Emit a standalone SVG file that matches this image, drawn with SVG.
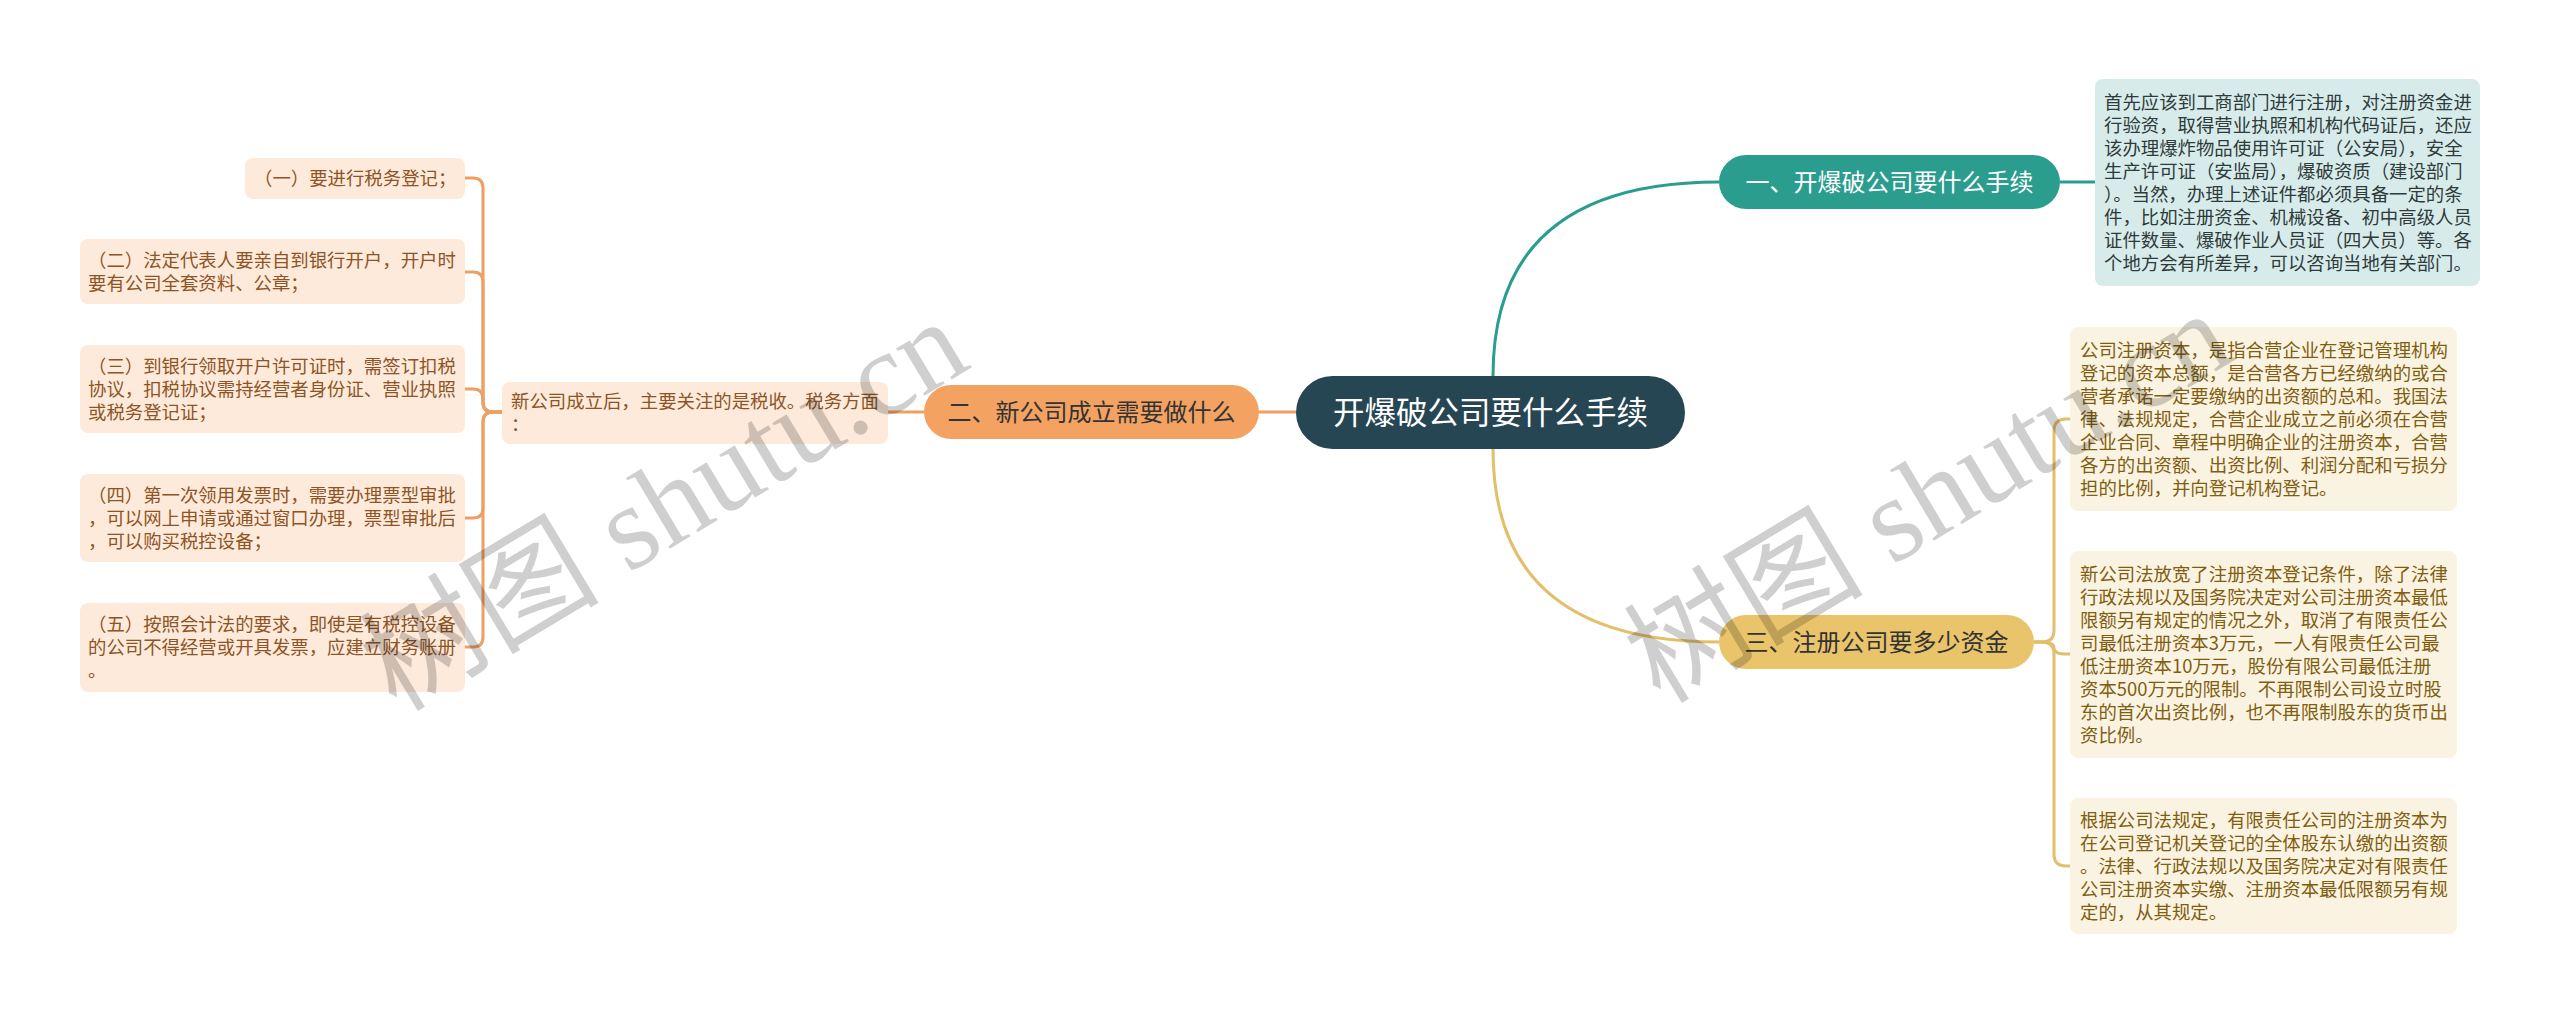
<svg xmlns="http://www.w3.org/2000/svg" width="2560" height="1014" viewBox="0 0 2560 1014">
<style>
text{font-family:"Noto Sans CJK SC","Noto Sans",sans-serif}
.sm{font-size:18.4px}
.leaf{fill:#fdeadb}
.leaft{fill:#8e5425}
.tealbox{fill:#d7ecea}
.tealt{fill:#2f3a3a}
.ybox{fill:#fbf3e1}
.yt{fill:#7f5e12}
.pill{font-size:24px}
.c-o{fill:none;stroke:#eea064;stroke-width:3}
.c-t{fill:none;stroke:#2a9d8f;stroke-width:3}
.c-y{fill:none;stroke:#e2c06a;stroke-width:3}
.wm{font-family:"Liberation Serif","Noto Sans CJK SC",serif;font-size:120px;fill:#000;fill-opacity:0.19}
</style>
<rect width="2560" height="1014" fill="#ffffff"/>
<g id="connectors">
<path class="c-t" d="M1493 376 Q1493 182 1719 182"/>
<path class="c-y" d="M1493 449 Q1493 642 1719 642"/>
<path class="c-o" d="M1296 412 L1259 412"/>
<path class="c-o" d="M924 412 L888 412"/>
<path class="c-t" d="M2060 182 L2095 182"/>
<path class="c-y" d="M2034 642 H2042 Q2054 642 2054 630 V431 Q2054 419 2066 419 H2070"/>
<path class="c-y" d="M2034 642 H2042 Q2054 642 2054 648 Q2054 654 2066 654 H2070"/>
<path class="c-y" d="M2034 642 H2042 Q2054 642 2054 654 V854 Q2054 866 2066 866 H2070"/>
<path class="c-o" d="M502 412 H493 Q483 412 483 402 V188 Q483 178 473 178 H465"/>
<path class="c-o" d="M502 412 H493 Q483 412 483 402 V282 Q483 272 473 272 H465"/>
<path class="c-o" d="M502 412 H493 Q483 412 483 402 V399 Q483 389 473 389 H465"/>
<path class="c-o" d="M502 412 H493 Q483 412 483 422 V508 Q483 518 473 518 H465"/>
<path class="c-o" d="M502 412 H493 Q483 412 483 422 V637 Q483 647 473 647 H465"/>
</g>
<g id="root">
<rect x="1296" y="376" width="389" height="73" rx="36.5" fill="#264653"/>
<text x="1490.5" y="423.5" font-size="31.5" fill="#ffffff" text-anchor="middle">开爆破公司要什么手续</text>
</g>
<g id="n1">
<rect x="1719" y="155" width="341" height="54" rx="27" fill="#2a9d8f"/>
<text class="pill" x="1889.5" y="190.5" fill="#ffffff" text-anchor="middle">一、开爆破公司要什么手续</text>
</g>
<g id="n1-detail">
<rect class="tealbox" x="2095" y="79" width="385" height="207" rx="8"/>
<text class="sm tealt">
<tspan x="2104" y="108.5">首先应该到工商部门进行注册，对注册资金进</tspan>
<tspan x="2104" y="131.5">行验资，取得营业执照和机构代码证后，还应</tspan>
<tspan x="2104" y="154.5">该办理爆炸物品使用许可证（公安局），安全</tspan>
<tspan x="2104" y="177.5">生产许可证（安监局），爆破资质（建设部门</tspan>
<tspan x="2104" y="200.5">）。当然，办理上述证件都必须具备一定的条</tspan>
<tspan x="2104" y="223.5">件，比如注册资金、机械设备、初中高级人员</tspan>
<tspan x="2104" y="246.5">证件数量、爆破作业人员证（四大员）等。各</tspan>
<tspan x="2104" y="269.5">个地方会有所差异，可以咨询当地有关部门。</tspan>
</text>
</g>
<g id="n2">
<rect x="924" y="385" width="335" height="54" rx="27" fill="#f4a261"/>
<text class="pill" x="1091.5" y="420.5" fill="#333333" text-anchor="middle">二、新公司成立需要做什么</text>
</g>
<g id="n2-child">
<rect class="leaf" x="502" y="382" width="386" height="62" rx="8"/>
<text class="sm leaft">
<tspan x="511" y="408">新公司成立后，主要关注的是税收。税务方面</tspan>
<tspan x="511" y="431">：</tspan>
</text>
</g>
<g id="leaf1">
<rect class="leaf" x="245" y="158" width="220" height="41" rx="8"/>
<text class="sm leaft"><tspan x="254" y="185">（一）要进行税务登记；</tspan></text>
</g>
<g id="leaf2">
<rect class="leaf" x="80" y="239" width="385" height="65" rx="8"/>
<text class="sm leaft">
<tspan x="88" y="267">（二）法定代表人要亲自到银行开户，开户时</tspan>
<tspan x="88" y="290">要有公司全套资料、公章；</tspan>
</text>
</g>
<g id="leaf3">
<rect class="leaf" x="80" y="345" width="385" height="88" rx="8"/>
<text class="sm leaft">
<tspan x="88" y="372.5">（三）到银行领取开户许可证时，需签订扣税</tspan>
<tspan x="88" y="395.5">协议，扣税协议需持经营者身份证、营业执照</tspan>
<tspan x="88" y="418.5">或税务登记证；</tspan>
</text>
</g>
<g id="leaf4">
<rect class="leaf" x="80" y="474" width="385" height="88" rx="8"/>
<text class="sm leaft">
<tspan x="88" y="501.5">（四）第一次领用发票时，需要办理票型审批</tspan>
<tspan x="88" y="524.5">，可以网上申请或通过窗口办理，票型审批后</tspan>
<tspan x="88" y="547.5">，可以购买税控设备；</tspan>
</text>
</g>
<g id="leaf5">
<rect class="leaf" x="80" y="603" width="385" height="89" rx="8"/>
<text class="sm leaft">
<tspan x="88" y="630.5">（五）按照会计法的要求，即使是有税控设备</tspan>
<tspan x="88" y="653.5">的公司不得经营或开具发票，应建立财务账册</tspan>
<tspan x="88" y="676.5">。</tspan>
</text>
</g>
<g id="n3">
<rect x="1719" y="615" width="315" height="54" rx="27" fill="#e9c46a"/>
<text class="pill" x="1876.5" y="650.5" fill="#333333" text-anchor="middle">三、注册公司要多少资金</text>
</g>
<g id="n3-a">
<rect class="ybox" x="2070" y="327" width="387" height="184" rx="8"/>
<text class="sm yt">
<tspan x="2080" y="356.5">公司注册资本，是指合营企业在登记管理机构</tspan>
<tspan x="2080" y="379.5">登记的资本总额，是合营各方已经缴纳的或合</tspan>
<tspan x="2080" y="402.5">营者承诺一定要缴纳的出资额的总和。我国法</tspan>
<tspan x="2080" y="425.5">律、法规规定，合营企业成立之前必须在合营</tspan>
<tspan x="2080" y="448.5">企业合同、章程中明确企业的注册资本，合营</tspan>
<tspan x="2080" y="471.5">各方的出资额、出资比例、利润分配和亏损分</tspan>
<tspan x="2080" y="494.5">担的比例，并向登记机构登记。</tspan>
</text>
</g>
<g id="n3-b">
<rect class="ybox" x="2070" y="551" width="387" height="207" rx="8"/>
<text class="sm yt">
<tspan x="2080" y="580.5">新公司法放宽了注册资本登记条件，除了法律</tspan>
<tspan x="2080" y="603.5">行政法规以及国务院决定对公司注册资本最低</tspan>
<tspan x="2080" y="626.5">限额另有规定的情况之外，取消了有限责任公</tspan>
<tspan x="2080" y="649.5">司最低注册资本3万元，一人有限责任公司最</tspan>
<tspan x="2080" y="672.5">低注册资本10万元，股份有限公司最低注册</tspan>
<tspan x="2080" y="695.5">资本500万元的限制。不再限制公司设立时股</tspan>
<tspan x="2080" y="718.5">东的首次出资比例，也不再限制股东的货币出</tspan>
<tspan x="2080" y="741.5">资比例。</tspan>
</text>
</g>
<g id="n3-c">
<rect class="ybox" x="2070" y="798" width="387" height="136" rx="8"/>
<text class="sm yt">
<tspan x="2080" y="826.5">根据公司法规定，有限责任公司的注册资本为</tspan>
<tspan x="2080" y="849.5">在公司登记机关登记的全体股东认缴的出资额</tspan>
<tspan x="2080" y="872.5">。法律、行政法规以及国务院决定对有限责任</tspan>
<tspan x="2080" y="895.5">公司注册资本实缴、注册资本最低限额另有规</tspan>
<tspan x="2080" y="918.5">定的，从其规定。</tspan>
</text>
</g>
<g id="watermark">
<text class="wm" text-anchor="middle" dominant-baseline="central" transform="translate(664 505) rotate(-31)">树图 shutu.cn</text>
<text class="wm" text-anchor="middle" dominant-baseline="central" transform="translate(1928 497) rotate(-31)">树图 shutu.cn</text>
</g>
</svg>
